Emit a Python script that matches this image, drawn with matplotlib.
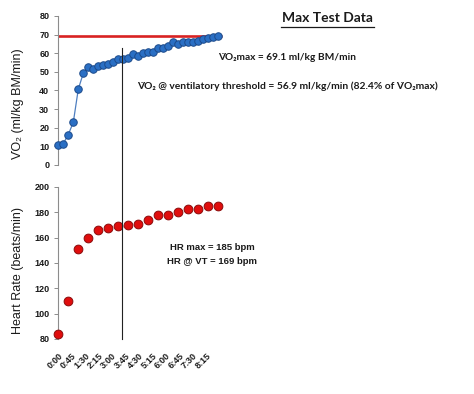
import numpy as np
import matplotlib
matplotlib.use("Agg")
import matplotlib.pyplot as plt
from matplotlib.lines import Line2D
from matplotlib.transforms import blended_transform_factory

# VO2 every 15 s, heart rate every 30 s (seconds from start)
vo2 = [10.7, 11.5, 16.3, 23.0, 40.8, 49.3, 52.6, 51.8, 53.3, 53.5, 54.0,
       55.3, 56.7, 56.8, 57.6, 59.8, 58.6, 59.9, 60.5, 60.7, 62.8, 63.0,
       63.8, 65.8, 65.2, 66.1, 66.0, 66.0, 66.6, 67.8, 68.0, 68.6, 69.3]
hr = [84, 110, 151, 160, 166, 168, 169, 170, 171, 174, 178, 178, 180,
      183, 183, 185, 185]
vo2_step = 15
hr_step = 30
vo2_max = 69.1
vt_time = 192
tick_labels = ["0:00", "0:45", "1:30", "2:15", "3:00", "3:45", "4:30",
               "5:15", "6:00", "6:45", "7:30", "8:15"]

t_vo2 = np.arange(len(vo2)) * vo2_step
t_hr = np.arange(len(hr)) * hr_step

arial = ["Liberation Sans", "DejaVu Sans"]
calib = ["Lato", "DejaVu Sans"]
txt = "#1a1a1a"

fig = plt.figure(figsize=(4.74, 3.94), dpi=100)
W, H = 474, 394
x0, x1 = 58.3, 230
xmax = (x1 - x0) / 0.3337

ax1 = fig.add_axes([x0 / W, 1 - 165 / H, (x1 - x0) / W, (165 - 16) / H])
ax2 = fig.add_axes([x0 / W, 1 - 339 / H, (x1 - x0) / W, (339 - 187) / H])

for ax in (ax1, ax2):
    for s in ("top", "right", "bottom"):
        ax.spines[s].set_visible(False)
    ax.spines["left"].set_color("#8c8c8c")
    ax.spines["left"].set_linewidth(0.8)
    ax.tick_params(axis="y", length=3, width=0.7, color="#8c8c8c", pad=3.5,
                   labelsize=6.5, labelcolor=txt)
    ax.set_xlim(0, xmax)

ax1.plot([0, t_vo2[-1] + 10], [vo2_max, vo2_max], color="#d92222", lw=1.9,
         zorder=2, solid_capstyle="butt")
ax1.plot(t_vo2, vo2, color="#4f7fc0", lw=0.9, marker="o", ms=5.4,
         mfc="#2a6fc4", mec="#1c4a8a", mew=0.7, zorder=3, clip_on=False)
ax1.set_ylim(0, 80)
ax1.set_yticks(range(0, 81, 10))
ax1.set_xticks([])

ax2.plot(t_hr, hr, ls="none", marker="o", ms=6.3, mfc="#e00d0d",
         mec="#8a0a0a", mew=0.7, zorder=3, clip_on=False)
ax2.set_ylim(80, 200)
ax2.set_yticks(range(80, 201, 20))
tick_pos = np.arange(len(tick_labels)) * 40.3
ax2.set_xticks(tick_pos)
ax2.set_xticklabels(tick_labels, rotation=45, ha="right",
                    rotation_mode="anchor", fontsize=6.5, color=txt,
                    family=arial, fontweight="bold")
ax2.tick_params(axis="x", length=0, pad=9)
for lab in ax1.get_yticklabels() + ax2.get_yticklabels():
    lab.set_family(arial)
    lab.set_fontweight("bold")

# ventilatory threshold line through both panels
tr = blended_transform_factory(ax1.transData, fig.transFigure)
fig.add_artist(Line2D([vt_time, vt_time], [1 - 48 / H, 1 - 339 / H],
                      transform=tr, color="#222222", lw=0.8))

fig.text(18 / W, 1 - 103.5 / H, "V\u0307O\u2082 (ml/kg BM/min)", rotation=90,
         ha="center", va="center", fontsize=9, color=txt, family=arial)
fig.text(18 / W, 1 - 271 / H, "Heart Rate (beats/min)", rotation=90,
         ha="center", va="center", fontsize=9, color=txt, family=arial)

fig.text(327 / W, 1 - 18 / H, "Max Test Data", ha="center",
         va="center", fontsize=10, fontweight="bold", color=txt,
         family=calib)
fig.add_artist(Line2D([281 / W, 374 / W], [1 - 26.5 / H, 1 - 26.5 / H],
                      transform=fig.transFigure, color=txt, lw=0.9))

fig.text(218 / W, 1 - 57 / H, "V\u0307O\u2082max = 69.1 ml/kg BM/min",
         ha="left", va="center", fontsize=7.3, fontweight="bold", color=txt,
         family=calib)
fig.text(137 / W, 1 - 86 / H,
         "V\u0307O\u2082 @ ventilatory threshold = 56.9 ml/kg/min "
         "(82.4% of V\u0307O\u2082max)",
         ha="left", va="center", fontsize=7.35, fontweight="bold", color=txt,
         family=calib)
fig.text(212 / W, 1 - 247 / H, "HR max = 185 bpm", ha="center", va="center",
         fontsize=6.8, fontweight="bold", color=txt, family=arial)
fig.text(212 / W, 1 - 261 / H, "HR @ VT = 169 bpm", ha="center", va="center",
         fontsize=6.8, fontweight="bold", color=txt, family=arial)

fig.savefig("out.png", dpi=100)
